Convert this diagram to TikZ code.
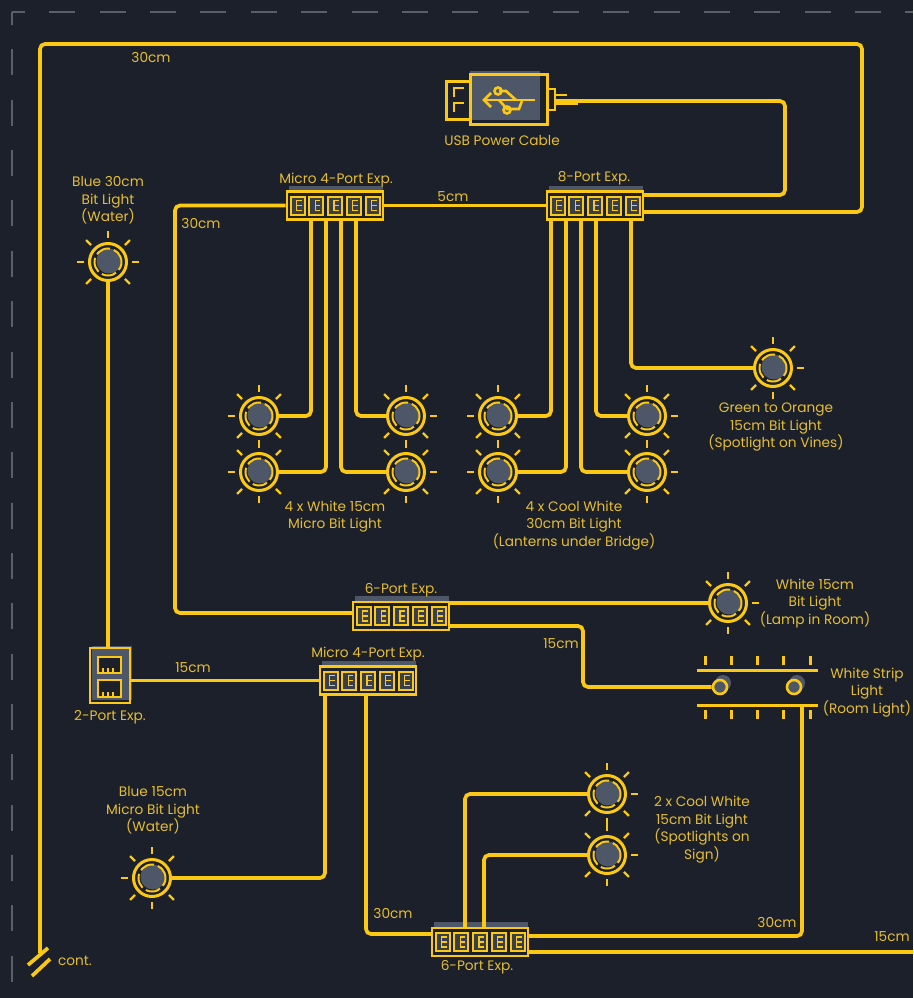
\documentclass[tikz,border=0pt]{standalone}
\usepackage{fontspec}
\setmainfont{Poppins}
\usetikzlibrary{calc}
\definecolor{panelbg}{HTML}{1B202B}
\definecolor{cable}{HTML}{FBC914}
\definecolor{labeltext}{HTML}{E6BE32}
\definecolor{portgray}{HTML}{4E5768}
\definecolor{edgegray}{HTML}{5A606B}
\tikzset{
  wire/.style={draw=cable,line width=3.7pt,rounded corners=5pt},
  hubbox/.style={draw=cable,line width=2.6pt,minimum width=96pt,minimum height=28pt,inner sep=0pt},
  portbox/.style={draw=cable,line width=2pt},
  lightnode/.style={circle,draw=cable,line width=3pt,minimum size=37pt,inner sep=0pt},
  ray/.style={draw=cable,line width=2.2pt},
  tag/.style={text=labeltext,font=\fontsize{13.7}{17.5}\selectfont,align=center,inner sep=0pt,yshift=-0.5pt},
}
% bit light: name, x, y
\newcommand{\bitlight}[3]{
  \fill[portgray] (#2+1,#3-1) circle (12.5pt);
  \draw[cable,line width=2pt,dash pattern=on 15pt off 4pt] (#2,#3) circle (13.5pt);
  \node[lightnode] (#1) at (#2,#3) {};
  \foreach \a in {0,45,...,315}
    \draw[ray] ($(#2,#3)+(\a:24pt)$) -- ($(#2,#3)+(\a:31pt)$);
}
% expander with five ports: name, x, y of centre
\newcommand{\expander}[3]{
  \fill[portgray] (#2-46,#3-20) rectangle (#2+48,#3+6);
  \fill[panelbg] (#2-48,#3-14) rectangle (#2+48,#3+14);
  \node[hubbox] (#1) at (#2,#3) {};
  \foreach \p in {-37.5,-18.75,0,18.75,37.5} {
    \fill[portgray!55!panelbg] (#2+\p-7,#3-9) rectangle (#2+\p+7,#3+9);
    \draw[portbox] (#2+\p-7,#3-9) rectangle (#2+\p+7,#3+9);
    \draw[cable,line width=1.3pt] (#2+\p+4,#3-5) -- (#2+\p-1,#3-5) -- (#2+\p-1,#3+5) -- (#2+\p+4,#3+5);
    \draw[cable,line width=1.3pt] (#2+\p-1,#3) -- (#2+\p+4,#3);
  }
}
\begin{document}
\begin{tikzpicture}[x=1pt,y=-1pt]
  \useasboundingbox (0,0) rectangle (913,998);
  \fill[panelbg] (0,0) rectangle (913,998);
  \draw[edgegray,line width=1.7pt,dash pattern=on 26pt off 24.36pt,dash phase=13pt] (12,12) -- (913,12);
  \draw[edgegray,line width=1.7pt,dash pattern=on 26pt off 24.36pt,dash phase=13pt] (12,12) -- (12,998);

  % usb plug
  \fill[portgray] (470,71) rectangle (540,120);
  \node[draw=cable,line width=3pt,minimum width=77pt,minimum height=50pt,inner sep=0pt] (usb) at (508.5,99.5) {};
  \draw[cable,line width=3pt] (470,81) -- (446,81) -- (446,119) -- (470,119);
  \draw[cable,line width=2.8pt] (464,88) -- (454,88) -- (454,97);
  \draw[cable,line width=2.8pt] (464,103) -- (454,103) -- (454,112);
  \draw[cable,line width=2.6pt] (486,100) -- (535,100);
  \draw[cable,line width=2.6pt] (491,93) -- (484,100) -- (491,107);
  \draw[cable,line width=2.6pt] (499,91) -- (506,91) -- (516,100);
  \draw[cable,line width=2.6pt] (499,100) -- (507,109) -- (519,109) -- (522,101);
  \draw[cable,line width=2.6pt] (498,91) circle (3.5pt);
  \draw[cable,line width=2.6pt] (507,110) circle (3.5pt);
  \draw[cable,line width=2.6pt] (548,89) -- (555,89) -- (555,110) -- (548,110);
  \draw[cable,line width=2.6pt] (555,95) -- (567,95);
  \draw[cable,line width=6pt] (555,102) -- (578,102);

  % expanders
  \expander{microup}{335}{205.5}
  \expander{eightport}{595}{205.5}
  \expander{sixup}{401}{616}
  \expander{microlow}{368}{680.5}
  \expander{sixlow}{480}{942}

  % two ports
  \fill[portgray] (92,646) rectangle (132,700);
  \node[draw=cable,line width=2.6pt,minimum width=40pt,minimum height=55pt,inner sep=0pt] (twoport) at (110,675.5) {};
  \draw[portbox,fill=panelbg] (98,657) rectangle (121,673);
  \draw[portbox,fill=panelbg] (98,680) rectangle (121,697);
  \draw[cable,line width=1.3pt] (103,673) -- (103,668) (108,673) -- (108,668) (113,673) -- (113,668);
  \draw[cable,line width=1.3pt] (103,697) -- (103,692) (108,697) -- (108,692) (113,697) -- (113,692);

  % lights
  \bitlight{bluewater}{108}{262}
  \bitlight{whitea}{259}{416}
  \bitlight{whiteb}{259}{472}
  \bitlight{whitec}{406}{416}
  \bitlight{whited}{406}{472}
  \bitlight{coola}{498}{416}
  \bitlight{coolb}{498}{472}
  \bitlight{coolc}{647}{416}
  \bitlight{coold}{647}{472}
  \bitlight{greenorange}{773}{368}
  \bitlight{lamp}{728}{603}
  \bitlight{bluemicro}{152}{878}
  \bitlight{signa}{607}{794}
  \bitlight{signb}{607}{855}

  % white strip
  \draw[cable,line width=3pt] (697,670) -- (818,670);
  \node[minimum width=121pt,minimum height=3pt,inner sep=0pt,fill=cable] (strip) at (757.5,705) {};
  \draw[cable,line width=3pt] (705,656) -- (705,665) (731,656) -- (731,665) (757,656) -- (757,665) (783,656) -- (783,665) (810,656) -- (810,665);
  \draw[cable,line width=3pt] (705,710) -- (705,719) (731,710) -- (731,719) (757,710) -- (757,719) (783,710) -- (783,719) (810,710) -- (810,719);
  \fill[portgray] (723,683) circle (8pt);
  \fill[portgray] (797,683) circle (8pt);
  \node[circle,draw=cable,line width=2.6pt,fill=portgray,minimum size=14pt,inner sep=0pt] (stripa) at (720,687) {};
  \node[circle,draw=cable,line width=2.6pt,fill=portgray,minimum size=14pt,inner sep=0pt] (stripb) at (794,687) {};

  % free ends
  \coordinate (contend) at (40,953);
  \coordinate (rightend) at (913,952);
  \coordinate (usbtail) at (578,101);
  \coordinate (stripdrop) at (802,706);
  \coordinate (microup s1) at (311,220);
  \coordinate (microup s2) at (326,220);
  \coordinate (microup s3) at (341,220);
  \coordinate (microup s4) at (356,220);
  \coordinate (eightport s1) at (551,220);
  \coordinate (eightport s2) at (566,220);
  \coordinate (eightport s3) at (581,220);
  \coordinate (eightport s4) at (596,220);
  \coordinate (eightport s5) at (631,220);
  \coordinate (eightport e1) at (643,195);
  \coordinate (eightport e2) at (643,212);
  \coordinate (sixup w) at (353,613);
  \coordinate (sixup e1) at (449,603);
  \coordinate (sixup e2) at (449,626);
  \coordinate (microlow s1) at (325,695);
  \coordinate (microlow s2) at (366,695);
  \coordinate (sixlow w) at (432,934);
  \coordinate (sixlow n1) at (465,928);
  \coordinate (sixlow n2) at (484,928);
  \coordinate (sixlow e1) at (528,936);
  \coordinate (sixlow e2) at (528,952);

  % cables
  \draw[wire] (contend) -- (40,44) -- (862,44) -- (862,212) -- (eightport e2);
  \draw[wire] (usbtail) -- (785,101) -- (785,195) -- (eightport e1);
  \draw[wire] (microup.west) -- (175,205.5) -- (175,613) -- (sixup w);
  \draw[wire] (microup.east) -- (eightport.west);
  \draw[wire] (microup s1) |- (whitea);
  \draw[wire] (microup s2) |- (whiteb);
  \draw[wire] (microup s3) |- (whited);
  \draw[wire] (microup s4) |- (whitec);
  \draw[wire] (eightport s1) |- (coola);
  \draw[wire] (eightport s2) |- (coolb);
  \draw[wire] (eightport s3) |- (coold);
  \draw[wire] (eightport s4) |- (coolc);
  \draw[wire] (eightport s5) |- (greenorange);
  \draw[wire] (sixup e1) -- (lamp);
  \draw[wire] (sixup e2) -- (583,626) -- (583,687) -- (stripa);
  \draw[wire] (bluewater) -- (twoport.north -| bluewater);
  \draw[wire] (twoport.east |- microlow.west) -- (microlow.west);
  \draw[wire] (microlow s1) |- (bluemicro);
  \draw[wire] (microlow s2) |- (sixlow w);
  \draw[wire] (sixlow n1) |- (signa);
  \draw[wire] (sixlow n2) |- (signb);
  \draw[wire] (stripdrop) |- (sixlow e1);
  \draw[wire] (sixlow e2) -- (rightend);

  % cut mark
  \coordinate (cuta) at (28,965);
  \coordinate (cutb) at (48,948);
  \coordinate (cutc) at (32,976);
  \coordinate (cutd) at (50,959);
  \draw[cable,line width=3.7pt] (cuta) -- (cutb);
  \draw[cable,line width=3.7pt] (cutc) -- (cutd);

  % labels
  \node[tag] (lenouter) at (151,57) {30cm};
  \node[tag] (lenleft) at (201,223) {30cm};
  \node[tag] (lenfive) at (453,196) {5cm};
  \node[tag] (lensixup) at (561,643) {15cm};
  \node[tag] (lentwo) at (193,667) {15cm};
  \node[tag] (lenmicro) at (393,913) {30cm};
  \node[tag] (lenstrip) at (777,922) {30cm};
  \node[tag] (lenright) at (892,936) {15cm};
  \node[tag] (usbtag) at (502,140) {USB Power Cable};
  \node[tag] (microuptag) at (336,180) {Micro 4-Port Exp.};
  \node[tag] (eightporttag) at (594,178) {8-Port Exp.};
  \node[tag] (sixuptag) at (401,590) {6-Port Exp.};
  \node[tag] (microlowtag) at (368,654) {Micro 4-Port Exp.};
  \node[tag] (twoporttag) at (110,717) {2-Port Exp.};
  \node[tag] (sixlowtag) at (477,967) {6-Port Exp.};
  \node[tag] (bluewatertag) at (108,200) {Blue 30cm\\Bit Light\\(Water)};
  \node[tag] (greentag) at (776,427) {Green to Orange\\15cm Bit Light\\(Spotlight on Vines)};
  \node[tag] (whitetag) at (335,516) {4 x White 15cm\\Micro Bit Light};
  \node[tag] (cooltag) at (574,525) {4 x Cool White\\30cm Bit Light\\(Lanterns under Bridge)};
  \node[tag] (lamptag) at (815,603) {White 15cm\\Bit Light\\(Lamp in Room)};
  \node[tag] (striptag) at (867,692) {White Strip\\Light\\(Room Light)};
  \node[tag] (bluemicrotag) at (153,810) {Blue 15cm\\Micro Bit Light\\(Water)};
  \node[tag] (signtag) at (702,829) {2 x Cool White\\15cm Bit Light\\(Spotlights on\\Sign)};
  \node[tag] (conttag) at (75,960) {cont.};
\end{tikzpicture}
\end{document}
